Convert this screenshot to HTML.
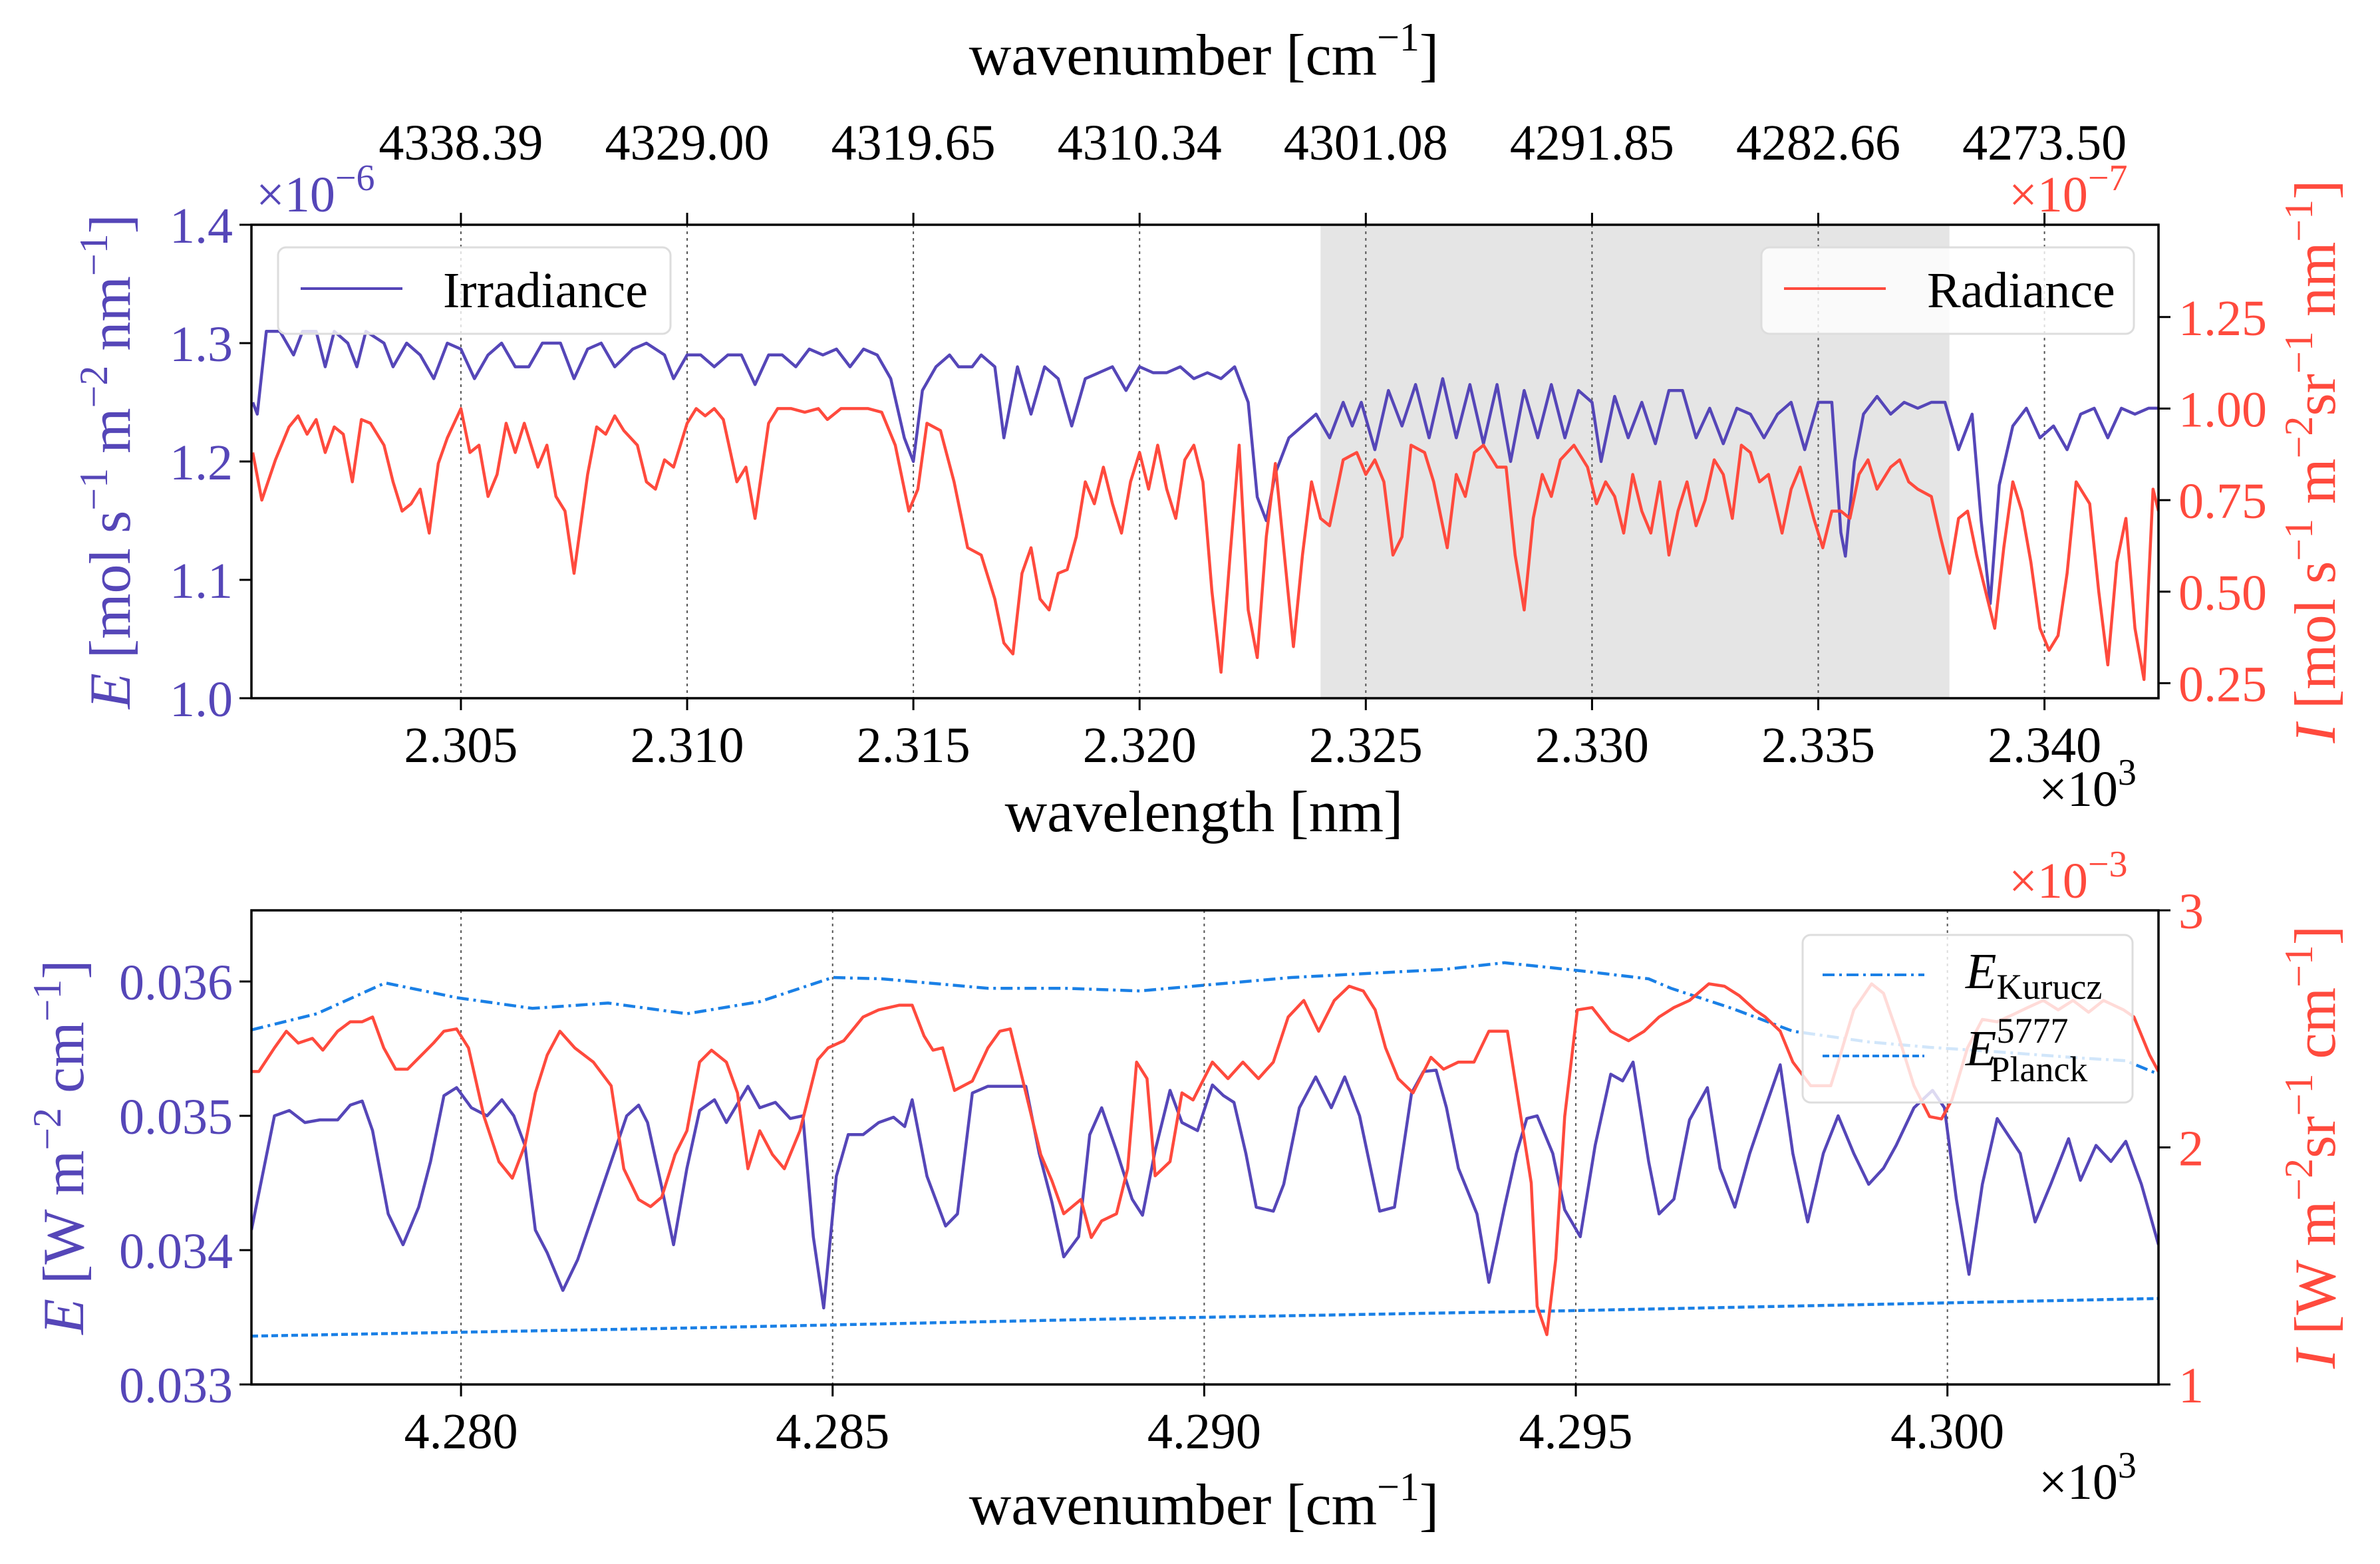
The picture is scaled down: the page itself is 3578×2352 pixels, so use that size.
<!DOCTYPE html>
<html><head><meta charset="utf-8"><style>
html,body{margin:0;padding:0;background:#fff;}
svg{display:block;font-family:"Liberation Serif",serif;}
</style></head><body>
<svg id="fig" width="3578" height="2352" viewBox="0 0 3578 2352" xmlns="http://www.w3.org/2000/svg"></svg>
<script>
// ---------- DATA: top panel ----------
const topWavelengths = [2300.4,2300.5,2300.7,2301.0,2301.3,2301.5,2301.8,2302.0,2302.2,2302.5,2302.7,2302.9,2303.3,2303.5,2303.8,2304.1,2304.4,2304.7,2305.0,2305.3,2305.6,2305.9,2306.2,2306.5,2306.8,2307.2,2307.5,2307.8,2308.1,2308.4,2308.8,2309.1,2309.5,2309.7,2310.0,2310.3,2310.6,2310.9,2311.2,2311.5,2311.8,2312.1,2312.4,2312.7,2313.0,2313.3,2313.6,2313.9,2314.2,2314.5,2314.8,2315.0,2315.2,2315.5,2315.8,2316.0,2316.3,2316.5,2316.8,2317.0,2317.3,2317.6,2317.9,2318.2,2318.5,2318.8,2319.1,2319.4,2319.7,2320.0,2320.3,2320.6,2320.9,2321.2,2321.5,2321.8,2322.1,2322.4,2322.6,2322.8,2323.0,2323.3,2323.6,2323.9,2324.2,2324.5,2324.7,2324.9,2325.2,2325.5,2325.8,2326.1,2326.4,2326.7,2327.0,2327.3,2327.6,2327.9,2328.2,2328.5,2328.8,2329.1,2329.4,2329.7,2330.0,2330.2,2330.5,2330.8,2331.1,2331.4,2331.7,2332.0,2332.3,2332.6,2332.9,2333.2,2333.5,2333.8,2334.1,2334.4,2334.7,2335.0,2335.3,2335.5,2335.6,2335.8,2336.0,2336.3,2336.6,2336.9,2337.2,2337.5,2337.8,2338.1,2338.4,2338.6,2338.8,2339.0,2339.3,2339.6,2339.9,2340.2,2340.5,2340.8,2341.1,2341.4,2341.7,2342.0,2342.3,2342.5];
const irradianceMicro = [1.25,1.24,1.31,1.31,1.29,1.31,1.31,1.28,1.31,1.30,1.28,1.31,1.30,1.28,1.30,1.29,1.27,1.30,1.295,1.27,1.29,1.30,1.28,1.28,1.30,1.30,1.27,1.295,1.30,1.28,1.295,1.30,1.29,1.27,1.29,1.29,1.28,1.29,1.29,1.265,1.29,1.29,1.28,1.295,1.29,1.295,1.28,1.295,1.29,1.27,1.22,1.20,1.26,1.28,1.29,1.28,1.28,1.29,1.28,1.22,1.28,1.24,1.28,1.27,1.23,1.27,1.275,1.28,1.26,1.28,1.275,1.275,1.28,1.27,1.275,1.27,1.28,1.25,1.17,1.15,1.19,1.22,1.23,1.24,1.22,1.25,1.23,1.25,1.21,1.26,1.23,1.265,1.22,1.27,1.22,1.265,1.215,1.265,1.20,1.26,1.22,1.265,1.22,1.26,1.25,1.20,1.255,1.22,1.25,1.215,1.26,1.26,1.22,1.245,1.215,1.245,1.24,1.22,1.24,1.25,1.21,1.25,1.25,1.14,1.12,1.20,1.24,1.255,1.24,1.25,1.245,1.25,1.25,1.21,1.24,1.15,1.08,1.18,1.23,1.245,1.22,1.23,1.21,1.24,1.245,1.22,1.245,1.24,1.245,1.245];
const radWavelengths = [2300.4,2300.6,2300.9,2301.2,2301.4,2301.6,2301.8,2302.0,2302.2,2302.4,2302.6,2302.8,2303.0,2303.3,2303.5,2303.7,2303.9,2304.1,2304.3,2304.5,2304.7,2305.0,2305.2,2305.4,2305.6,2305.8,2306.0,2306.2,2306.4,2306.7,2306.9,2307.1,2307.3,2307.5,2307.8,2308.0,2308.2,2308.4,2308.6,2308.9,2309.1,2309.3,2309.5,2309.7,2310.0,2310.2,2310.4,2310.6,2310.8,2311.1,2311.3,2311.5,2311.8,2312.0,2312.3,2312.6,2312.9,2313.1,2313.4,2313.7,2314.0,2314.3,2314.6,2314.9,2315.1,2315.3,2315.6,2315.9,2316.2,2316.5,2316.8,2317.0,2317.2,2317.4,2317.6,2317.8,2318.0,2318.2,2318.4,2318.6,2318.8,2319.0,2319.2,2319.4,2319.6,2319.8,2320.0,2320.2,2320.4,2320.6,2320.8,2321.0,2321.2,2321.4,2321.6,2321.8,2322.0,2322.2,2322.4,2322.6,2322.8,2323.0,2323.2,2323.4,2323.6,2323.8,2324.0,2324.2,2324.5,2324.8,2325.0,2325.2,2325.4,2325.6,2325.8,2326.0,2326.3,2326.5,2326.8,2327.0,2327.2,2327.4,2327.6,2327.9,2328.1,2328.3,2328.5,2328.7,2328.9,2329.1,2329.3,2329.6,2329.9,2330.1,2330.3,2330.5,2330.7,2330.9,2331.1,2331.3,2331.5,2331.7,2331.9,2332.1,2332.3,2332.5,2332.7,2332.9,2333.1,2333.3,2333.5,2333.7,2333.9,2334.2,2334.4,2334.6,2334.9,2335.1,2335.3,2335.5,2335.7,2335.9,2336.1,2336.3,2336.6,2336.8,2337.0,2337.2,2337.5,2337.7,2337.9,2338.1,2338.3,2338.5,2338.7,2338.9,2339.1,2339.3,2339.5,2339.7,2339.9,2340.1,2340.3,2340.5,2340.7,2341.0,2341.2,2341.4,2341.6,2341.8,2342.0,2342.2,2342.4,2342.52];
const radianceTop = [0.88,0.75,0.86,0.95,0.98,0.93,0.97,0.88,0.95,0.93,0.80,0.97,0.96,0.90,0.80,0.72,0.74,0.78,0.66,0.85,0.92,1.00,0.88,0.90,0.76,0.82,0.96,0.88,0.96,0.84,0.90,0.76,0.72,0.55,0.82,0.95,0.93,0.98,0.94,0.90,0.80,0.78,0.86,0.84,0.96,1.00,0.98,1.00,0.97,0.80,0.84,0.70,0.96,1.00,1.00,0.99,1.00,0.97,1.00,1.00,1.00,0.99,0.90,0.72,0.78,0.96,0.94,0.80,0.62,0.60,0.48,0.36,0.33,0.55,0.62,0.48,0.45,0.55,0.56,0.65,0.80,0.74,0.84,0.74,0.66,0.80,0.88,0.78,0.90,0.78,0.70,0.86,0.90,0.80,0.50,0.28,0.60,0.90,0.45,0.32,0.65,0.85,0.60,0.35,0.60,0.80,0.70,0.68,0.86,0.88,0.82,0.86,0.80,0.60,0.65,0.90,0.88,0.80,0.62,0.82,0.76,0.88,0.90,0.84,0.84,0.60,0.45,0.70,0.82,0.76,0.86,0.90,0.84,0.74,0.80,0.76,0.66,0.82,0.72,0.66,0.80,0.60,0.72,0.80,0.68,0.75,0.86,0.82,0.70,0.90,0.88,0.80,0.82,0.66,0.78,0.84,0.70,0.62,0.72,0.72,0.70,0.82,0.86,0.78,0.84,0.86,0.80,0.78,0.76,0.65,0.55,0.70,0.72,0.60,0.50,0.40,0.62,0.80,0.72,0.58,0.40,0.34,0.38,0.55,0.80,0.74,0.50,0.30,0.58,0.70,0.40,0.26,0.78,0.72];
const topXTicks = [2305,2310,2315,2320,2325,2330,2335,2340];
const topXTickLabels = ["2.305","2.310","2.315","2.320","2.325","2.330","2.335","2.340"];
const topWavenumberLabels = ["4338.39","4329.00","4319.65","4310.34","4301.08","4291.85","4282.66","4273.50"];
const topLeftTicks = [1.0,1.1,1.2,1.3,1.4];
const topLeftTickLabels = ["1.0","1.1","1.2","1.3","1.4"];
const topRightTicks = [0.25,0.50,0.75,1.00,1.25];
const topRightTickLabels = ["0.25","0.50","0.75","1.00","1.25"];
const shadedBand = [2324.0, 2337.9];

// ---------- DATA: bottom panel ----------
const botWavenumbers = [4277.18,4277.49,4277.69,4277.90,4278.10,4278.34,4278.51,4278.67,4278.81,4279.02,4279.22,4279.43,4279.59,4279.77,4279.94,4280.14,4280.35,4280.55,4280.71,4280.86,4281.00,4281.16,4281.37,4281.57,4281.78,4282.02,4282.23,4282.39,4282.51,4282.70,4282.86,4283.04,4283.21,4283.41,4283.57,4283.86,4284.02,4284.23,4284.43,4284.60,4284.74,4284.88,4285.05,4285.21,4285.41,4285.62,4285.82,4285.97,4286.07,4286.27,4286.52,4286.68,4286.88,4287.09,4287.39,4287.60,4287.78,4287.95,4288.11,4288.31,4288.46,4288.62,4288.82,4289.03,4289.17,4289.34,4289.54,4289.70,4289.91,4290.11,4290.26,4290.40,4290.56,4290.70,4290.93,4291.07,4291.28,4291.50,4291.71,4291.89,4292.09,4292.36,4292.56,4292.79,4292.95,4293.12,4293.26,4293.42,4293.67,4293.83,4294.04,4294.20,4294.34,4294.48,4294.69,4294.85,4295.06,4295.26,4295.47,4295.63,4295.77,4295.98,4296.12,4296.32,4296.53,4296.77,4296.94,4297.14,4297.34,4297.55,4297.75,4297.92,4298.12,4298.33,4298.53,4298.74,4298.94,4299.14,4299.31,4299.55,4299.80,4299.96,4300.12,4300.29,4300.47,4300.67,4300.98,4301.18,4301.39,4301.63,4301.79,4302.00,4302.20,4302.40,4302.61,4302.84];
const irradianceBot = [0.03415,0.03500,0.03504,0.03495,0.03497,0.03497,0.03508,0.03511,0.03489,0.03427,0.03404,0.03432,0.03466,0.03515,0.03521,0.03506,0.03500,0.03512,0.03500,0.03478,0.03415,0.03398,0.03370,0.03393,0.03427,0.03466,0.03500,0.03508,0.03495,0.03447,0.03404,0.03461,0.03504,0.03512,0.03495,0.03522,0.03506,0.03510,0.03498,0.03500,0.03410,0.03357,0.03455,0.03486,0.03486,0.03495,0.03499,0.03492,0.03512,0.03455,0.03418,0.03427,0.03517,0.03522,0.03522,0.03522,0.03472,0.03436,0.03395,0.03410,0.03486,0.03506,0.03474,0.03438,0.03426,0.03474,0.03519,0.03495,0.03489,0.03523,0.03515,0.03510,0.03472,0.03432,0.03429,0.03449,0.03506,0.03529,0.03506,0.03529,0.03500,0.03429,0.03432,0.03517,0.03533,0.03534,0.03506,0.03461,0.03427,0.03376,0.03432,0.03472,0.03498,0.03500,0.03472,0.03430,0.03410,0.03478,0.03531,0.03526,0.03540,0.03466,0.03427,0.03438,0.03497,0.03521,0.03461,0.03432,0.03472,0.03506,0.03538,0.03472,0.03421,0.03472,0.03500,0.03472,0.03449,0.03461,0.03478,0.03506,0.03519,0.03506,0.03438,0.03382,0.03449,0.03498,0.03472,0.03421,0.03449,0.03483,0.03452,0.03478,0.03466,0.03481,0.03449,0.03404];
const radWavenumbers = [4277.18,4277.28,4277.49,4277.65,4277.81,4278.00,4278.14,4278.34,4278.51,4278.67,4278.81,4278.96,4279.12,4279.28,4279.47,4279.63,4279.77,4279.94,4280.10,4280.31,4280.51,4280.69,4280.86,4281.00,4281.16,4281.33,4281.53,4281.78,4282.02,4282.19,4282.39,4282.55,4282.70,4282.88,4283.04,4283.21,4283.37,4283.57,4283.72,4283.86,4284.02,4284.19,4284.35,4284.56,4284.80,4284.94,4285.15,4285.41,4285.62,4285.90,4286.07,4286.23,4286.35,4286.48,4286.64,4286.88,4287.09,4287.25,4287.39,4287.60,4287.80,4287.95,4288.11,4288.34,4288.48,4288.62,4288.82,4288.97,4289.09,4289.23,4289.34,4289.54,4289.70,4289.85,4290.11,4290.32,4290.52,4290.73,4290.93,4291.13,4291.34,4291.54,4291.75,4291.95,4292.14,4292.30,4292.44,4292.61,4292.81,4293.05,4293.22,4293.42,4293.63,4293.83,4294.08,4294.24,4294.40,4294.48,4294.61,4294.73,4294.85,4295.02,4295.22,4295.47,4295.71,4295.92,4296.12,4296.32,4296.53,4296.79,4297.00,4297.20,4297.41,4297.55,4297.75,4297.92,4298.16,4298.43,4298.53,4298.74,4298.98,4299.14,4299.35,4299.55,4299.76,4299.92,4300.06,4300.27,4300.47,4300.67,4300.88,4301.08,4301.29,4301.49,4301.69,4301.90,4302.10,4302.37,4302.51,4302.72,4302.84];
const radianceMilli = [2.32,2.32,2.42,2.49,2.44,2.46,2.41,2.49,2.53,2.53,2.55,2.42,2.33,2.33,2.39,2.44,2.49,2.50,2.42,2.13,1.94,1.87,2.01,2.23,2.39,2.49,2.42,2.36,2.26,1.91,1.78,1.75,1.79,1.97,2.07,2.36,2.41,2.36,2.23,1.91,2.07,1.97,1.91,2.07,2.37,2.42,2.45,2.55,2.58,2.60,2.60,2.47,2.41,2.42,2.24,2.28,2.42,2.49,2.50,2.23,1.97,1.86,1.72,1.78,1.62,1.69,1.72,1.91,2.36,2.29,1.88,1.94,2.23,2.20,2.36,2.29,2.36,2.29,2.36,2.55,2.62,2.49,2.62,2.68,2.66,2.58,2.42,2.29,2.23,2.38,2.33,2.36,2.36,2.49,2.49,2.17,1.85,1.33,1.21,1.53,2.13,2.58,2.59,2.49,2.45,2.49,2.55,2.59,2.62,2.69,2.68,2.64,2.58,2.55,2.49,2.36,2.26,2.26,2.36,2.58,2.69,2.65,2.46,2.26,2.13,2.12,2.20,2.42,2.54,2.53,2.56,2.59,2.62,2.58,2.62,2.57,2.62,2.58,2.55,2.39,2.32];
const kuruczWavenumbers = [4277.18,4278.06,4278.98,4279.94,4280.96,4281.98,4283.04,4284.02,4285.00,4285.66,4287.09,4288.11,4289.13,4290.15,4291.17,4292.20,4293.22,4294.04,4295.06,4295.98,4296.28,4297.10,4297.92,4298.94,4299.76,4300.59,4301.81,4302.40,4302.84];
const kuruczValues = [0.03564,0.03576,0.03599,0.03588,0.03580,0.03584,0.03576,0.03585,0.03603,0.03602,0.03595,0.03595,0.03593,0.03598,0.03603,0.03606,0.03609,0.03614,0.03608,0.03602,0.03595,0.03580,0.03563,0.03555,0.03551,0.03548,0.03543,0.03541,0.03531];
const planckWavenumbers = [4277.18,4283.0,4289.0,4295.0,4302.84];
const planckValues = [0.03336,0.03342,0.03349,0.03355,0.03364];
const botXTicks = [4280,4285,4290,4295,4300];
const botXTickLabels = ["4.280","4.285","4.290","4.295","4.300"];
const botLeftTicks = [0.033,0.034,0.035,0.036];
const botLeftTickLabels = ["0.033","0.034","0.035","0.036"];
const botRightTicks = [1,2,3];
const botRightTickLabels = ["1","2","3"];

// ---------- LAYOUT ----------
const NS = "http://www.w3.org/2000/svg";
const svg = document.getElementById('fig');
const PURPLE = "#5546b8", RED = "#ff4a3d", BLUE = "#1a80e6";
const L = 378, R = 3245;
const T1 = 338, B1 = 1050, T2 = 1369, B2 = 2082;
const FS = 76;
const TS = 88;
const LW = 4.5;

function mk(tag, attrs, parent) {
  const e = document.createElementNS(NS, tag);
  for (const k in attrs) e.setAttribute(k, attrs[k]);
  (parent || svg).appendChild(e);
  return e;
}
function lin(d0, d1, r0, r1) { return v => r0 + (v - d0) * (r1 - r0) / (d1 - d0); }

const xTop = lin(2300.37, 2342.52, L, R);
const yTopL = lin(1.0, 1.4, B1, T1);
const yTopR = lin(0.209, 1.502, B1, T1);
const xBot = lin(4277.18, 4302.84, L, R);
const yBotL = lin(0.033, 0.03653, B2, T2);
const yBotR = lin(1, 3, B2, T2);

function path(xs, ys, fx, fy) {
  return xs.map((x, i) => (i ? "L" : "M") + fx(x).toFixed(1) + " " + fy(ys[i]).toFixed(1)).join(" ");
}

const defs = mk('defs', {});
const c1 = mk('clipPath', {id: 'clipTop'}, defs); mk('rect', {x: L, y: T1, width: R - L, height: B1 - T1}, c1);
const c2 = mk('clipPath', {id: 'clipBot'}, defs); mk('rect', {x: L, y: T2, width: R - L, height: B2 - T2}, c2);

// ---------- TOP PANEL ----------
const band = mk('rect', {x: xTop(shadedBand[0]), y: T1, width: xTop(shadedBand[1]) - xTop(shadedBand[0]), height: B1 - T1, fill: "#e5e5e5"});



topXTicks.forEach((t, i) => {
  const x = xTop(t);
  const g = mk('line', {x1: x, x2: x, y1: T1, y2: B1, stroke: "#555", "stroke-width": 2, "stroke-dasharray": "4 6"});
  
  
  mk('line', {x1: x, x2: x, y1: B1, y2: B1 + 18, stroke: "#000", "stroke-width": 3});
  mk('line', {x1: x, x2: x, y1: T1, y2: T1 - 18, stroke: "#000", "stroke-width": 3});
  const lb = mk('text', {x: x, y: B1 + 96, "font-size": FS, "text-anchor": "middle"});
  lb.textContent = topXTickLabels[i];
  
  
  const tl = mk('text', {x: x, y: 240, "font-size": FS, "text-anchor": "middle"});
  tl.textContent = topWavenumberLabels[i];
  
  
});
topLeftTicks.forEach((t, i) => {
  const y = yTopL(t);
  mk('line', {x1: L - 18, x2: L, y1: y, y2: y, stroke: "#000", "stroke-width": 3});
  const lb = mk('text', {x: L - 28, y: y + 27, "font-size": FS, "text-anchor": "end", fill: PURPLE});
  lb.textContent = topLeftTickLabels[i];
  
  
});
topRightTicks.forEach((t, i) => {
  const y = yTopR(t);
  mk('line', {x1: R, x2: R + 18, y1: y, y2: y, stroke: "#000", "stroke-width": 3});
  const lb = mk('text', {x: R + 30, y: y + 27, "font-size": FS, fill: RED});
  lb.textContent = topRightTickLabels[i];
  
  
});

const gTop = mk('g', {"clip-path": "url(#clipTop)"});
const irrLine = mk('path', {d: path(topWavelengths, irradianceMicro, xTop, yTopL), fill: "none", stroke: PURPLE, "stroke-width": LW, "stroke-linejoin": "round"}, gTop);


const radLine = mk('path', {d: path(radWavelengths, radianceTop, xTop, yTopR), fill: "none", stroke: RED, "stroke-width": LW, "stroke-linejoin": "round"}, gTop);



const frame1 = mk('rect', {x: L, y: T1, width: R - L, height: B1 - T1, fill: "none", stroke: "#000", "stroke-width": 3.5});



function legendBox(x, y, w, h, name) {
  const r = mk('rect', {x: x, y: y, width: w, height: h, rx: 12, fill: "rgba(255,255,255,0.8)", stroke: "#ddd", "stroke-width": 3});
  
  
}
legendBox(418, 372, 590, 130, 'irradiance-legend');
mk('line', {x1: 452, x2: 605, y1: 434, y2: 434, stroke: PURPLE, "stroke-width": 4});
let t = mk('text', {x: 666, y: 462, "font-size": FS});
t.textContent = "Irradiance";


legendBox(2648, 372, 560, 130, 'radiance-legend');
mk('line', {x1: 2682, x2: 2835, y1: 434, y2: 434, stroke: RED, "stroke-width": 4});
t = mk('text', {x: 2897, y: 462, "font-size": FS});
t.textContent = "Radiance";



function sciText(x, y, base, exp, color, name, anchor) {
  const e = mk('text', {x: x, y: y, "font-size": FS, fill: color, "text-anchor": anchor || "start"});
  e.innerHTML = base + '<tspan dy="-32" font-size="56">' + exp + '</tspan>';
  
  
  return e;
}
sciText(385, 318, "×10", "−6", PURPLE, 'top-left-offset');
sciText(3020, 318, "×10", "−7", RED, 'top-right-offset');
sciText(3065, 1212, "×10", "3", "#000", 'top-x-offset');

t = mk('text', {x: 1810, y: 1250, "font-size": TS, "text-anchor": "middle"});
t.textContent = "wavelength [nm]";


t = mk('text', {x: 1810, y: 112, "font-size": TS, "text-anchor": "middle"});
t.innerHTML = 'wavenumber [cm<tspan dy="-36" font-size="60">−1</tspan><tspan dy="36">]</tspan>';



t = mk('text', {x: 0, y: 0, "font-size": TS, "text-anchor": "middle", fill: PURPLE, transform: "translate(195,694) rotate(-90)"});
t.innerHTML = '<tspan font-style="italic">E</tspan> [mol s<tspan dy="-34" font-size="60">−1</tspan><tspan dy="34"> m</tspan><tspan dy="-34" font-size="60">−2</tspan><tspan dy="34"> nm</tspan><tspan dy="-34" font-size="60">−1</tspan><tspan dy="34">]</tspan>';


t = mk('text', {x: 0, y: 0, "font-size": TS, "text-anchor": "middle", fill: RED, transform: "translate(3510,694) rotate(-90)"});
t.innerHTML = '<tspan font-style="italic">I</tspan> [mol s<tspan dy="-34" font-size="60">−1</tspan><tspan dy="34"> m</tspan><tspan dy="-34" font-size="60">−2</tspan><tspan dy="34">sr</tspan><tspan dy="-34" font-size="60">−1</tspan><tspan dy="34"> nm</tspan><tspan dy="-34" font-size="60">−1</tspan><tspan dy="34">]</tspan>';



// ---------- BOTTOM PANEL ----------
botXTicks.forEach((v, i) => {
  const x = xBot(v);
  const g = mk('line', {x1: x, x2: x, y1: T2, y2: B2, stroke: "#555", "stroke-width": 2, "stroke-dasharray": "4 6"});
  
  
  mk('line', {x1: x, x2: x, y1: B2, y2: B2 + 18, stroke: "#000", "stroke-width": 3});
  const lb = mk('text', {x: x, y: B2 + 96, "font-size": FS, "text-anchor": "middle"});
  lb.textContent = botXTickLabels[i];
  
  
});
botLeftTicks.forEach((v, i) => {
  const y = yBotL(v);
  mk('line', {x1: L - 18, x2: L, y1: y, y2: y, stroke: "#000", "stroke-width": 3});
  const lb = mk('text', {x: L - 28, y: y + 27, "font-size": FS, "text-anchor": "end", fill: PURPLE});
  lb.textContent = botLeftTickLabels[i];
  
  
});
botRightTicks.forEach((v, i) => {
  const y = yBotR(v);
  mk('line', {x1: R, x2: R + 18, y1: y, y2: y, stroke: "#000", "stroke-width": 3});
  const lb = mk('text', {x: R + 30, y: y + 27, "font-size": FS, fill: RED});
  lb.textContent = botRightTickLabels[i];
  
  
});

const gBot = mk('g', {"clip-path": "url(#clipBot)"});
const kl = mk('path', {d: path(kuruczWavenumbers, kuruczValues, xBot, yBotL), fill: "none", stroke: BLUE, "stroke-width": LW, "stroke-dasharray": "18 7 4 7"}, gBot);


const pl = mk('path', {d: path(planckWavenumbers, planckValues, xBot, yBotL), fill: "none", stroke: BLUE, "stroke-width": LW, "stroke-dasharray": "10 5"}, gBot);


const ib = mk('path', {d: path(botWavenumbers, irradianceBot, xBot, yBotL), fill: "none", stroke: PURPLE, "stroke-width": LW, "stroke-linejoin": "round"}, gBot);


const rb = mk('path', {d: path(radWavenumbers, radianceMilli, xBot, yBotR), fill: "none", stroke: RED, "stroke-width": LW, "stroke-linejoin": "round"}, gBot);



legendBox(2710, 1406, 496, 252, 'spectrum-legend');
mk('line', {x1: 2740, x2: 2893, y1: 1466, y2: 1466, stroke: BLUE, "stroke-width": 4, "stroke-dasharray": "18 7 4 7"});
mk('line', {x1: 2740, x2: 2893, y1: 1588, y2: 1588, stroke: BLUE, "stroke-width": 4, "stroke-dasharray": "10 5"});
t = mk('text', {x: 2955, y: 1486, "font-size": FS});
t.innerHTML = '<tspan font-style="italic">E</tspan><tspan dy="16" font-size="54">Kurucz</tspan>';


t = mk('text', {x: 2955, y: 1602, "font-size": FS});
t.innerHTML = '<tspan font-style="italic">E</tspan><tspan dy="-34" font-size="54">5777</tspan><tspan dx="-118" dy="58" font-size="54">Planck</tspan>';



const frame2 = mk('rect', {x: L, y: T2, width: R - L, height: B2 - T2, fill: "none", stroke: "#000", "stroke-width": 3.5});



sciText(3020, 1350, "×10", "−3", RED, 'bottom-right-offset');
sciText(3065, 2254, "×10", "3", "#000", 'bottom-x-offset');
t = mk('text', {x: 1810, y: 2292, "font-size": TS, "text-anchor": "middle"});
t.innerHTML = 'wavenumber [cm<tspan dy="-36" font-size="60">−1</tspan><tspan dy="36">]</tspan>';


t = mk('text', {x: 0, y: 0, "font-size": TS, "text-anchor": "middle", fill: PURPLE, transform: "translate(125,1725) rotate(-90)"});
t.innerHTML = '<tspan font-style="italic">E</tspan> [W m<tspan dy="-34" font-size="60">−2</tspan><tspan dy="34"> cm</tspan><tspan dy="-34" font-size="60">−1</tspan><tspan dy="34">]</tspan>';


t = mk('text', {x: 0, y: 0, "font-size": TS, "text-anchor": "middle", fill: RED, transform: "translate(3510,1725) rotate(-90)"});
t.innerHTML = '<tspan font-style="italic">I</tspan> [W m<tspan dy="-34" font-size="60">−2</tspan><tspan dy="34">sr</tspan><tspan dy="-34" font-size="60">−1</tspan><tspan dy="34"> cm</tspan><tspan dy="-34" font-size="60">−1</tspan><tspan dy="34">]</tspan>';


</script>
</body></html>
